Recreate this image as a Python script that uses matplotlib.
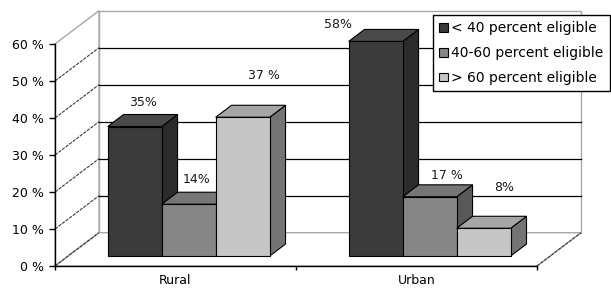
import matplotlib

matplotlib.use("Agg")
import matplotlib.pyplot as plt
from matplotlib.patches import Patch, Polygon

# --- data ----------------------------------------------------------------
categories = ["Rural", "Urban"]
series_names = ["< 40 percent eligible", "40-60 percent eligible", "> 60 percent eligible"]
lt40 = [35, 58]
mid40_60 = [14, 16]
gt60 = [37.5, 7.5]
value_labels = [["35%", "58%"], ["14%", "17 %"], ["37 %", "8%"]]
y_ticks = [0, 10, 20, 30, 40, 50, 60]

# --- style -----------------------------------------------------------------
FONT = 9
# (front, top, side) shading for each series
SHADES = [
    ("#3b3b3b", "#4a4a4a", "#2b2b2b"),
    ("#868686", "#767676", "#585858"),
    ("#c6c6c6", "#a6a6a6", "#747474"),
]
WALL = "#a8a8a8"
DX, DY = 0.1826, 9.0      # depth offset of the back wall, data units
D0, D1 = 0.30, 0.66       # bars sit between these depth fractions
BAR_W = 0.224
# label offsets in pixels from the back-top centre of each bar
NUDGE = [[(-8, 12), (-54, 5)], [(-8, 13), (1, 9)], [(5, 30), (5, 29)]]

plt.rcParams["font.family"] = ["DejaVu Sans"]

fig = plt.figure(figsize=(6.11, 2.89), dpi=100)
ax = fig.add_axes([55 / 611, 23 / 289, 482 / 611, 222 / 289])
ax.set_xlim(0, len(categories))
ax.set_ylim(0, 60)
top = y_ticks[-1]


def poly(pts, fc, ec, lw=0.8, z=1):
    ax.add_patch(Polygon(pts, closed=True, facecolor=fc, edgecolor=ec,
                         linewidth=lw, zorder=z, clip_on=False,
                         joinstyle="miter"))


n = len(categories)
# back wall, side wall, floor
poly([(DX, DY), (n + DX, DY), (n + DX, top + DY), (DX, top + DY)], "white", WALL, 1.0, 0.5)
poly([(0, 0), (DX, DY), (DX, top + DY), (0, top)], "white", WALL, 1.0, 0.6)
poly([(0, 0), (n, 0), (n + DX, DY), (DX, DY)], "white", WALL, 1.0, 0.6)
ax.plot([n, n + DX], [0, DY], color="#3a3a3a", lw=0.8, ls=(0, (3, 1)),
        zorder=0.9, clip_on=False)

# grid on back wall + diagonals on side wall
for v in y_ticks[:-1]:
    if v > 0:
        ax.plot([DX, n + DX], [v + DY, v + DY], color="black", lw=0.9,
                zorder=0.8, clip_on=False)
    ax.plot([0, DX], [v, v + DY], color="#3a3a3a", lw=0.8, ls=(0, (3, 1)),
            zorder=0.8, clip_on=False)

# bars
for s, vals in enumerate([lt40, mid40_60, gt60]):
    front_c, top_c, side_c = SHADES[s]
    for c, h in enumerate(vals):
        x0 = c + 0.5 - 1.5 * BAR_W + s * BAR_W
        x1 = x0 + BAR_W
        z = 3 + c * 3 + s
        fx0, fx1, fy = x0 + D0 * DX, x1 + D0 * DX, D0 * DY
        bx0, bx1, by = x0 + D1 * DX, x1 + D1 * DX, D1 * DY
        poly([(fx1, fy), (bx1, by), (bx1, h + by), (fx1, h + fy)], side_c, "black", 0.8, z)
        poly([(fx0, h + fy), (fx1, h + fy), (bx1, h + by), (bx0, h + by)], top_c, "black", 0.8, z)
        poly([(fx0, fy), (fx1, fy), (fx1, h + fy), (fx0, h + fy)], front_c, "black", 0.8, z)
        ax.annotate(value_labels[s][c], ((bx0 + bx1) / 2, h + by),
                    xytext=NUDGE[s][c], textcoords="offset pixels",
                    ha="center", va="center", fontsize=FONT, color="#1a1a1a",
                    zorder=20, annotation_clip=False)

# axes
for side in ["top", "right"]:
    ax.spines[side].set_visible(False)
ax.spines["left"].set_linewidth(1.0)
ax.spines["bottom"].set_linewidth(1.0)
ax.spines["left"].set_zorder(2)
ax.spines["bottom"].set_zorder(2)
ax.set_yticks(y_ticks)
ax.set_yticklabels([f"{v} %" for v in y_ticks])
ax.tick_params(axis="y", length=4, width=1, pad=4, labelsize=FONT, colors="black")
ax.set_xticks(range(n + 1))
ax.set_xticklabels([])
ax.tick_params(axis="x", which="major", length=3, width=1)
ax.set_xticks([i + 0.5 for i in range(n)], minor=True)
ax.set_xticklabels(categories, minor=True)
ax.tick_params(axis="x", which="minor", length=0, pad=6, labelsize=FONT)
ax.patch.set_alpha(0)

handles = [Patch(facecolor=SHADES[i][0], edgecolor="black", linewidth=0.8)
           for i in range(3)]
leg = fig.legend(handles, series_names, loc="upper left",
                 bbox_to_anchor=(433 / 611, 1 - 15 / 289), borderaxespad=0,
                 fontsize=10, frameon=True, fancybox=False, framealpha=1,
                 edgecolor="black", handlelength=0.6, handleheight=0.6,
                 handletextpad=0.25, labelspacing=0.78, borderpad=0.45)
leg.get_frame().set_linewidth(1.0)
leg.set_zorder(30)

fig.savefig("out.png", dpi=100)
